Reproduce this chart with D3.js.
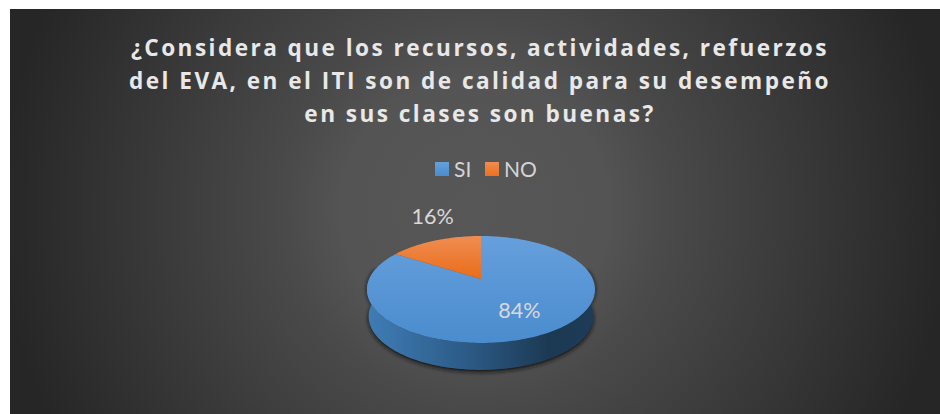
<!DOCTYPE html>
<html lang="en"><head>
  <meta charset="utf-8">
  <title>EVA pie</title>
  <script src="https://cdn.jsdelivr.net/npm/d3@7"></script>
  <style>
   html, body { margin: 0; padding: 0; background: white; overflow: hidden; }
   svg { display: block; }
  </style>
</head>
<body>
  <script type="text/javascript">
   var categories = ["SI", "NO"];
   var values = [84, 16];
   var titleLines = [
     "¿Considera que los recursos, actividades, refuerzos",
     "del EVA, en el ITI son de calidad para su desempeño",
     "en sus clases son buenas?"
   ];

   var width = 940;
   var height = 414;

   // tilted disc: apex is not the middle of the ellipse, so project the unit circle
   var cx = 481, cy = 279, spreadX = 111.8, spreadY = 51.4, persp = -0.196;
   var depth = 27;

   function project(angle, r, drop) {
     var u = Math.sin(angle) * r;
     var t = -Math.cos(angle) * r;
     var w = 1 + persp * t;
     var shrink = drop ? 0.985 : 1;
     return [cx + spreadX * shrink * u / w, cy + spreadY * t / w + (drop || 0)];
   }

   function arcPoints(a0, a1, drop) {
     var n = Math.max(2, Math.ceil(Math.abs(a1 - a0) * 40));
     return d3.range(n + 1).map(function(i) {
       return project(a0 + (a1 - a0) * i / n, 1, drop);
     });
   }

   var line = d3.line();

   var svg = d3.select("body").append("svg")
               .attr("width", width)
               .attr("height", height);

   var defs = svg.append("defs");

   var bg = defs.append("radialGradient")
                .attr("id", "bg")
                .attr("gradientUnits", "userSpaceOnUse")
                .attr("cx", 475).attr("cy", 210).attr("r", 475);
   bg.append("stop").attr("offset", "0%").attr("stop-color", "#575757");
   bg.append("stop").attr("offset", "28%").attr("stop-color", "#545454");
   bg.append("stop").attr("offset", "40%").attr("stop-color", "#4a4a4a");
   bg.append("stop").attr("offset", "100%").attr("stop-color", "#262626");

   function vertical(id, top, bottom) {
     var g = defs.append("linearGradient").attr("id", id)
                 .attr("x1", 0).attr("y1", 0).attr("x2", 0).attr("y2", 1);
     g.append("stop").attr("offset", "0%").attr("stop-color", top);
     g.append("stop").attr("offset", "100%").attr("stop-color", bottom);
   }
   vertical("faceSI", "#669fdc", "#4a8cce");
   vertical("faceNO", "#ef8d52", "#ea6c18");
   vertical("swatchSI", "#64a0dc", "#4a8ccd");
   vertical("swatchNO", "#f08c50", "#ec7020");

   var wall = defs.append("linearGradient").attr("id", "wall")
                  .attr("gradientUnits", "userSpaceOnUse")
                  .attr("x1", 367).attr("y1", 0).attr("x2", 595).attr("y2", 0);
   wall.append("stop").attr("offset", "0%").attr("stop-color", "#3f7db6");
   wall.append("stop").attr("offset", "45%").attr("stop-color", "#2b5a85");
   wall.append("stop").attr("offset", "80%").attr("stop-color", "#1c3953");
   wall.append("stop").attr("offset", "100%").attr("stop-color", "#1e3c58");

   defs.append("filter").attr("id", "soft")
       .attr("x", "-10%").attr("y", "-10%").attr("width", "120%").attr("height", "120%")
       .append("feGaussianBlur").attr("stdDeviation", 2);

   svg.append("rect")
      .attr("x", 10).attr("y", 9)
      .attr("width", width - 10).attr("height", height - 9)
      .attr("fill", "url(#bg)");

   svg.append("g").selectAll("text")
      .data(titleLines)
      .enter()
      .append("text")
      .attr("x", 480)
      .attr("y", function(d, i) { return 56 + i * 33; })
      .attr("text-anchor", "middle")
      .attr("font-family", "'Open Sans', sans-serif")
      .attr("font-weight", 700)
      .attr("font-size", 22.6)
      .attr("letter-spacing", 2.45)
      .attr("fill", "#e8e8e8")
      .text(function(d) { return d; });

   // legend
   var legendX = d3.scaleOrdinal().domain(categories).range([435, 485]);
   var legend = svg.append("g").selectAll("g")
                   .data(categories)
                   .enter()
                   .append("g")
                   .attr("transform", function(d) { return "translate(" + legendX(d) + ",162)"; });
   legend.append("rect")
         .attr("width", 14).attr("height", 14)
         .attr("fill", function(d) { return "url(#swatch" + d + ")"; });
   legend.append("text")
         .attr("x", 19).attr("y", 15)
         .attr("font-family", "Lato, sans-serif")
         .attr("font-size", 21)
         .attr("fill", "#d4d4d4")
         .text(function(d) { return d; });

   // pie
   var pie = d3.pie().sort(null)(values);
   var pieG = svg.append("g");

   // near half of the rim, from one extreme of the ellipse round to the other
   var rimA0 = Math.PI / 2 - 0.2, rimA1 = 3 * Math.PI / 2 + 0.2;
   var rimTop = arcPoints(rimA0, rimA1);
   var rimBottom = arcPoints(rimA1, rimA0, depth);

   pieG.append("path")
       .attr("d", line(rimTop.concat(arcPoints(rimA1, rimA0, depth + 2))) + "Z")
       .attr("fill", "#141414")
       .attr("filter", "url(#soft)");

   pieG.append("path")
       .attr("d", line(rimTop.concat(rimBottom)) + "Z")
       .attr("fill", "url(#wall)");

   pieG.selectAll(".slice")
       .data(pie)
       .enter()
       .append("path")
       .attr("class", "slice")
       .attr("d", function(d) {
         return line([project(0, 0)].concat(arcPoints(d.startAngle, d.endAngle))) + "Z";
       })
       .attr("fill", function(d, i) { return "url(#face" + categories[i] + ")"; });

   // data labels, 16% sits outside the disc like the office callout
   var labelR = [0.62, 1.81];
   var labelDx = [1, 26];
   var labelFmt = function(v) { return v + "%"; };
   pieG.selectAll(".label")
       .data(pie)
       .enter()
       .append("text")
       .attr("class", "label")
       .attr("transform", function(d, i) {
         var p = project((d.startAngle + d.endAngle) / 2, labelR[i]);
         return "translate(" + (p[0] + labelDx[i]) + "," + p[1] + ")";
       })
       .attr("dy", "0.35em")
       .attr("text-anchor", "middle")
       .attr("font-family", "Lato, sans-serif")
       .attr("font-size", 21.5)
       .attr("fill", "#d9d9d9")
       .text(function(d) { return labelFmt(d.value); });
  </script>
</body></html>
